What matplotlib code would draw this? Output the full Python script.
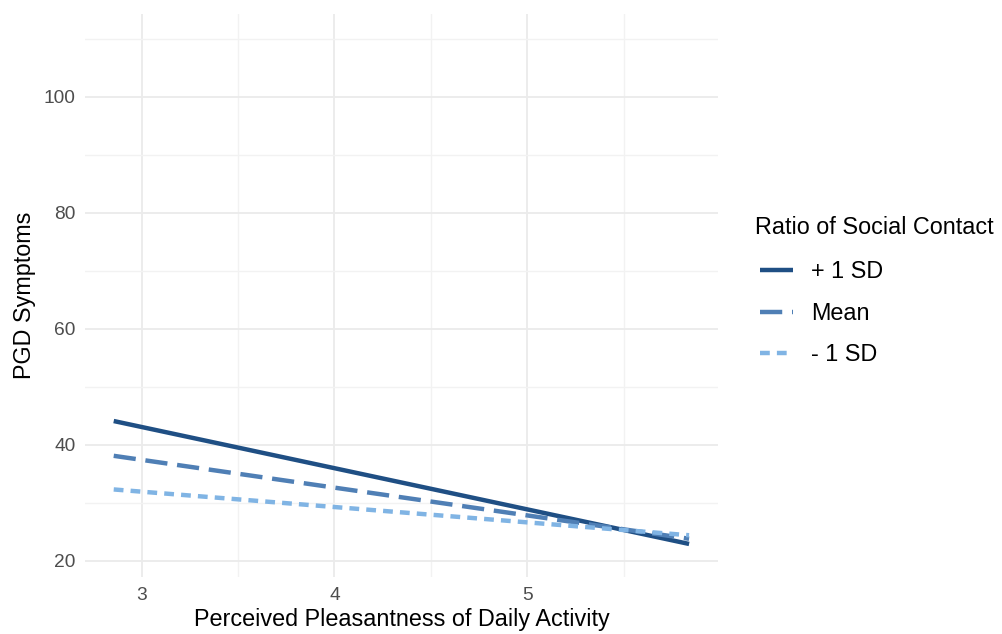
import matplotlib
matplotlib.use("Agg")
import matplotlib.pyplot as plt
import numpy as np
from matplotlib.ticker import MultipleLocator

plt.rcParams['font.family'] = ['Liberation Sans', 'DejaVu Sans']

x_range = [2.855, 5.84]
groups = ["+ 1 SD", "Mean", "- 1 SD"]
y_start = [44.1, 38.1, 32.3]
y_end = [22.9, 23.8, 24.4]
colors = ["#1F4F84", "#4F7FB5", "#80B4E4"]
styles = ["-", (0, (5, 2.2)), (0, (2.2, 1.6))]

fig = plt.figure(figsize=(10.03, 6.34), dpi=100)
ax = fig.add_axes([85/1003, 1-577/634, (718-85)/1003, (577-14)/634])

for g, ys, ye, c, ls in zip(groups, y_start, y_end, colors, styles):
    ax.plot(x_range, [ys, ye], color=c, lw=3.2, linestyle=ls, label=g,
            solid_capstyle='butt', dash_capstyle='butt')

ax.set_xlim(2.706, 5.99)
ax.set_ylim(17.2, 114.3)
ax.xaxis.set_major_locator(MultipleLocator(1))
ax.xaxis.set_minor_locator(MultipleLocator(0.5))
ax.yaxis.set_major_locator(MultipleLocator(20))
ax.yaxis.set_minor_locator(MultipleLocator(10))
ax.grid(which='major', color='#EBEBEB', lw=1.3)
ax.grid(which='minor', color='#F2F2F2', lw=1.0)
ax.set_axisbelow(True)
for s in ax.spines.values():
    s.set_visible(False)
ax.tick_params(which='both', length=0, labelsize=13.8, colors='#4D4D4D', pad=7)
ax.set_xlabel("Perceived Pleasantness of Daily Activity", fontsize=16.8, color='black', labelpad=3)
ax.set_ylabel("PGD Symptoms", fontsize=16.8, color='black', labelpad=5)

fig.text(755/1003, 1-228/634, "Ratio of Social Contact", fontsize=16.8, va='center', ha='left')
leg = fig.legend(loc='upper left', bbox_to_anchor=(760/1003, 1-260/634), frameon=False,
                 fontsize=16.8, borderpad=0, borderaxespad=0,
                 handlelength=1.42, handletextpad=0.77, labelspacing=0.8)
plt.savefig("out.png", dpi=100)
